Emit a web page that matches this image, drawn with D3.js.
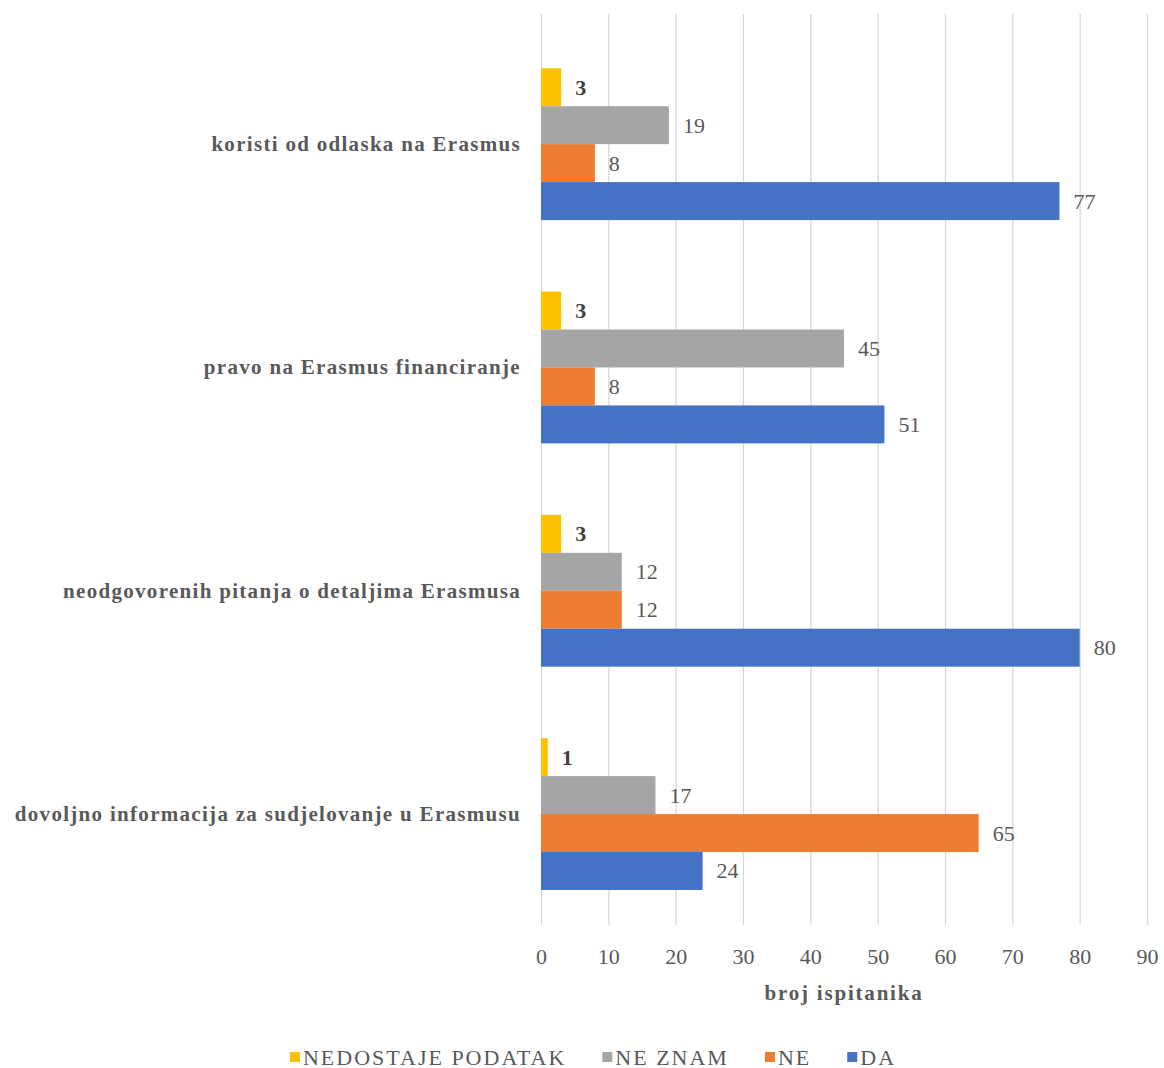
<!DOCTYPE html>
<html>
<head>
<meta charset="utf-8">
<script src="https://cdn.jsdelivr.net/npm/d3@7"></script>
<style>
    body { margin: 0; background: #ffffff; }
    svg { display: block; }
</style>
</head>
<body>
<svg id="chart"></svg>
<script>
// Data
const categories = [
    'koristi od odlaska na Erasmus',
    'pravo na Erasmus financiranje',
    'neodgovorenih pitanja o detaljima Erasmusa',
    'dovoljno informacija za sudjelovanje u Erasmusu'
];
const seriesNames = ['NEDOSTAJE PODATAK', 'NE ZNAM', 'NE', 'DA'];
const seriesColours = ['#FFC000', '#A5A5A5', '#ED7D31', '#4472C4'];
const nedostajeValues = [3, 3, 3, 1];
const neZnamValues = [19, 45, 12, 17];
const neValues = [8, 8, 12, 65];
const daValues = [77, 51, 80, 24];
const xTicks = [0, 10, 20, 30, 40, 50, 60, 70, 80, 90];
const xTitle = 'broj ispitanika';

const seriesValues = [nedostajeValues, neZnamValues, neValues, daValues];

const WIDTH = 1164;
const HEIGHT = 1068;
const FONT = '"Liberation Serif", "Times New Roman", serif';
const TEXT_COLOUR = '#595959';

const svg = d3.select('#chart')
    .attr('width', WIDTH)
    .attr('height', HEIGHT);

// plot area
const plot = {left: 541, right: 1147, top: 14, bottom: 925};

const x = d3.scaleLinear()
    .domain([0, 90])
    .range([plot.left, plot.right]);

const y = d3.scaleBand()
    .domain(categories)
    .range([32.5, 925.7])
    .paddingInner(0.32)
    .paddingOuter(0.16);

const ySeries = d3.scaleBand()
    .domain(seriesNames)
    .range([0, y.bandwidth()])
    .padding(0);

// gridlines + tick labels
const xAxis = svg.append('g')
    .attr('transform', `translate(0, ${plot.bottom})`)
    .call(d3.axisBottom(x)
        .tickValues(xTicks)
        .tickSize(-(plot.bottom - plot.top))
        .tickPadding(23));

xAxis.select('.domain').remove();
xAxis.selectAll('line')
    .attr('stroke', '#d4d4d4')
    .attr('stroke-width', 1.2);
xAxis.selectAll('text')
    .attr('fill', TEXT_COLOUR)
    .attr('font-family', FONT)
    .attr('font-size', '22px');

// bars
const groups = svg.append('g')
    .selectAll('g')
    .data(categories)
    .join('g')
    .attr('transform', d => `translate(0, ${y(d)})`);

groups.each(function (cat, ci) {
    const g = d3.select(this);
    seriesNames.forEach((name, si) => {
        const v = seriesValues[si][ci];
        g.append('rect')
            .attr('x', x(0))
            .attr('y', ySeries(name))
            .attr('width', x(v) - x(0))
            .attr('height', ySeries.bandwidth())
            .attr('fill', seriesColours[si]);

        g.append('text')
            .attr('x', x(v) + 14)
            .attr('y', ySeries(name) + ySeries.bandwidth() / 2)
            .attr('dominant-baseline', 'central')
            .attr('font-family', FONT)
            .attr('font-size', '22px')
            .attr('font-weight', si === 0 ? 'bold' : 'normal')
            .attr('fill', si === 0 ? '#404040' : TEXT_COLOUR)
            .text(v);
    });
});

// category labels
svg.append('g')
    .selectAll('text')
    .data(categories)
    .join('text')
    .attr('x', plot.left - 20)
    .attr('y', d => y(d) + y.bandwidth() / 2)
    .attr('text-anchor', 'end')
    .attr('dominant-baseline', 'central')
    .attr('font-family', FONT)
    .attr('font-size', '21px')
    .attr('font-weight', 'bold')
    .attr('letter-spacing', '1.3px')
    .attr('fill', TEXT_COLOUR)
    .text(d => d);

// axis title
svg.append('text')
    .attr('x', (plot.left + plot.right) / 2)
    .attr('y', 993)
    .attr('text-anchor', 'middle')
    .attr('dominant-baseline', 'central')
    .attr('font-family', FONT)
    .attr('font-size', '21px')
    .attr('font-weight', 'bold')
    .attr('letter-spacing', '1.8px')
    .attr('fill', TEXT_COLOUR)
    .text(xTitle);

// legend
const legend = svg.append('g');
const legendY = 1057;
const markerSize = 10;
let cursor = 0;
seriesNames.forEach((name, i) => {
    const item = legend.append('g')
        .attr('transform', `translate(${cursor}, 0)`);
    item.append('rect')
        .attr('x', 0)
        .attr('y', legendY - markerSize / 2)
        .attr('width', markerSize)
        .attr('height', markerSize)
        .attr('fill', seriesColours[i]);
    const t = item.append('text')
        .attr('x', markerSize + 3)
        .attr('y', legendY)
        .attr('dominant-baseline', 'central')
        .attr('font-family', FONT)
        .attr('font-size', '22px')
        .attr('letter-spacing', '2px')
        .attr('fill', TEXT_COLOUR)
        .text(name);
    cursor += markerSize + 3 + t.node().getComputedTextLength() + 36;
});
const legendWidth = cursor - 36;
legend.attr('transform', `translate(${593 - legendWidth / 2}, 0)`);
</script>
</body>
</html>
